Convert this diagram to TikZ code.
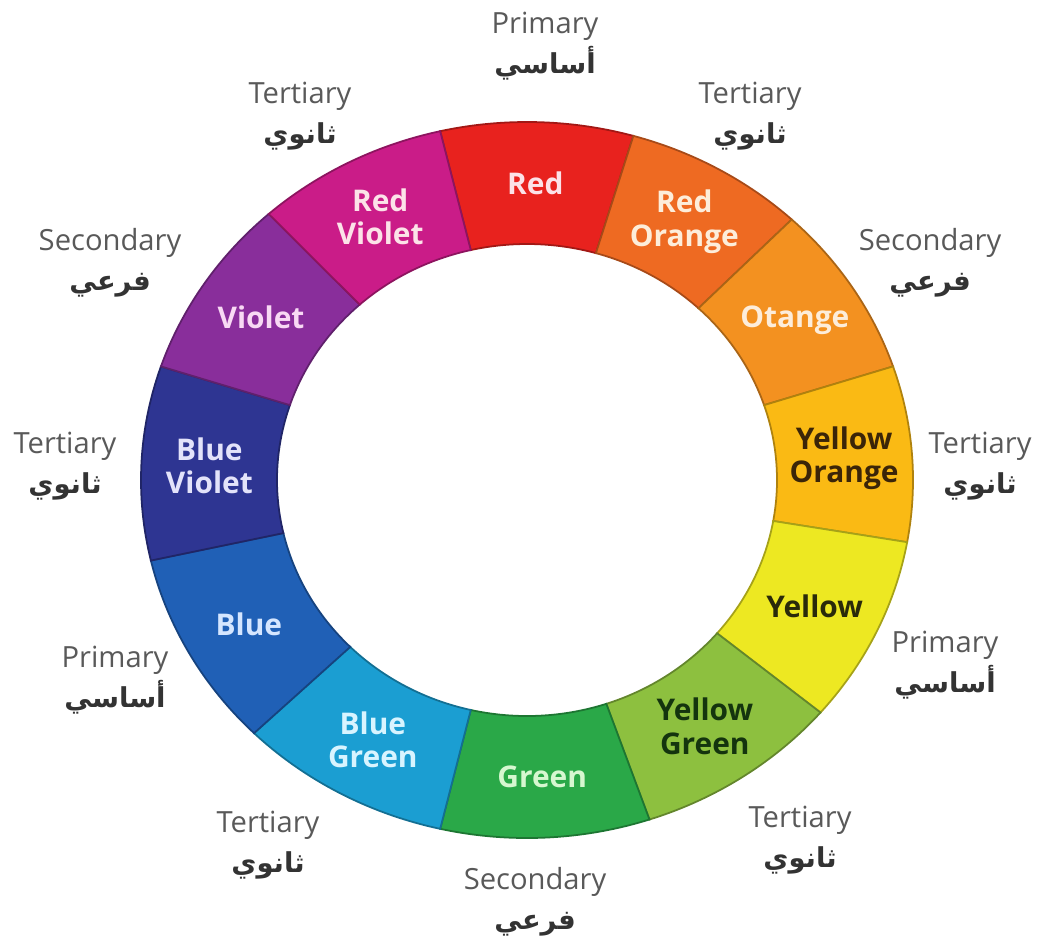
\documentclass[tikz,border=0pt]{standalone}
\usepackage{fontspec}
\setmainfont{Open Sans}
\newfontfamily\arabicfont[Script=Arabic]{DejaVu Sans}
\TeXXeTstate=1

\definecolor{cred}{RGB}{232,34,30}
\definecolor{credorange}{RGB}{238,106,34}
\definecolor{corange}{RGB}{243,145,32}
\definecolor{cyelloworange}{RGB}{250,186,20}
\definecolor{cyellow}{RGB}{237,232,34}
\definecolor{cyellowgreen}{RGB}{141,192,63}
\definecolor{cgreen}{RGB}{42,168,72}
\definecolor{cbluegreen}{RGB}{27,158,210}
\definecolor{cblue}{RGB}{32,96,182}
\definecolor{cblueviolet}{RGB}{46,53,146}
\definecolor{cviolet}{RGB}{137,46,155}
\definecolor{credviolet}{RGB}{202,28,136}
% text colours
\definecolor{tpink}{RGB}{252,226,232}
\definecolor{tcream}{RGB}{253,237,218}
\definecolor{tbrown}{RGB}{59,37,8}
\definecolor{tolive}{RGB}{42,42,10}
\definecolor{tdkgreen}{RGB}{20,52,14}
\definecolor{tltgreen}{RGB}{214,247,208}
\definecolor{tltcyan}{RGB}{216,244,255}
\definecolor{tltblue}{RGB}{213,230,255}
\definecolor{tlavender}{RGB}{227,227,250}
\definecolor{tlilac}{RGB}{248,217,244}

\newcommand{\arab}[1]{{\arabicfont\bfseries\fontsize{7.8}{11.5}\selectfont\color{black!80}\beginR #1\endR}}

\tikzset{
	wheelpart/.style={fill=#1, draw=#1!70!black, line width=0.5pt},
	colorname/.style={font=\fontsize{8.5}{9.5}\selectfont\bfseries, align=center, text=#1},
	kind/.style={font=\fontsize{8.3}{11.5}\selectfont, align=center, text=black!65},
}

\begin{document}
\begin{tikzpicture}
	\useasboundingbox (-5.27, -4.60) rectangle (5.22, 4.80);

	% the ring, one part per colour
	\draw[wheelpart=cred] (74:3.86 and 3.58) arc[start angle=74, end angle=103, x radius=3.86, y radius=3.58] -- (103:2.50 and 2.36) arc[start angle=103, end angle=74, x radius=2.50, y radius=2.36] -- cycle;
	\draw[wheelpart=credorange] (46.7:3.86 and 3.58) arc[start angle=46.7, end angle=74, x radius=3.86, y radius=3.58] -- (74:2.50 and 2.36) arc[start angle=74, end angle=46.7, x radius=2.50, y radius=2.36] -- cycle;
	\draw[wheelpart=corange] (18.5:3.86 and 3.58) arc[start angle=18.5, end angle=46.7, x radius=3.86, y radius=3.58] -- (46.7:2.50 and 2.36) arc[start angle=46.7, end angle=18.5, x radius=2.50, y radius=2.36] -- cycle;
	\draw[wheelpart=cyelloworange] (-10:3.86 and 3.58) arc[start angle=-10, end angle=18.5, x radius=3.86, y radius=3.58] -- (18.5:2.50 and 2.36) arc[start angle=18.5, end angle=-10, x radius=2.50, y radius=2.36] -- cycle;
	\draw[wheelpart=cyellow] (-40.5:3.86 and 3.58) arc[start angle=-40.5, end angle=-10, x radius=3.86, y radius=3.58] -- (-10:2.50 and 2.36) arc[start angle=-10, end angle=-40.5, x radius=2.50, y radius=2.36] -- cycle;
	\draw[wheelpart=cyellowgreen] (-71.5:3.86 and 3.58) arc[start angle=-71.5, end angle=-40.5, x radius=3.86, y radius=3.58] -- (-40.5:2.50 and 2.36) arc[start angle=-40.5, end angle=-71.5, x radius=2.50, y radius=2.36] -- cycle;
	\draw[wheelpart=cgreen] (-103:3.86 and 3.58) arc[start angle=-103, end angle=-71.5, x radius=3.86, y radius=3.58] -- (-71.5:2.50 and 2.36) arc[start angle=-71.5, end angle=-103, x radius=2.50, y radius=2.36] -- cycle;
	\draw[wheelpart=cbluegreen] (-135:3.86 and 3.58) arc[start angle=-135, end angle=-103, x radius=3.86, y radius=3.58] -- (-103:2.50 and 2.36) arc[start angle=-103, end angle=-135, x radius=2.50, y radius=2.36] -- cycle;
	\draw[wheelpart=cblue] (-167:3.86 and 3.58) arc[start angle=-167, end angle=-135, x radius=3.86, y radius=3.58] -- (-135:2.50 and 2.36) arc[start angle=-135, end angle=-167, x radius=2.50, y radius=2.36] -- cycle;
	\draw[wheelpart=cblueviolet] (161.5:3.86 and 3.58) arc[start angle=161.5, end angle=193, x radius=3.86, y radius=3.58] -- (193:2.50 and 2.36) arc[start angle=193, end angle=161.5, x radius=2.50, y radius=2.36] -- cycle;
	\draw[wheelpart=cviolet] (132:3.86 and 3.58) arc[start angle=132, end angle=161.5, x radius=3.86, y radius=3.58] -- (161.5:2.50 and 2.36) arc[start angle=161.5, end angle=132, x radius=2.50, y radius=2.36] -- cycle;
	\draw[wheelpart=credviolet] (103:3.86 and 3.58) arc[start angle=103, end angle=132, x radius=3.86, y radius=3.58] -- (132:2.50 and 2.36) arc[start angle=132, end angle=103, x radius=2.50, y radius=2.36] -- cycle;

	% names inside the ring
	\node[colorname=tpink] (red) at (88.5:3.18 and 2.97) {Red};
	\node[colorname=tcream] (redorange) at (60.35:3.18 and 2.97) {Red\\Orange};
	\node[colorname=tcream] (orange) at (32.6:3.18 and 2.97) {Otange};
	\node[colorname=tbrown] (yelloworange) at (4.25:3.18 and 2.97) {Yellow\\Orange};
	\node[colorname=tolive] (yellow) at (-25.25:3.18 and 2.97) {Yellow};
	\node[colorname=tdkgreen] (yellowgreen) at (-56:3.18 and 2.97) {Yellow\\Green};
	\node[colorname=tltgreen] (green) at (-87.25:3.18 and 2.97) {Green};
	\node[colorname=tltcyan] (bluegreen) at (-119:3.18 and 2.97) {Blue\\Green};
	\node[colorname=tltblue] (blue) at (-151:3.18 and 2.97) {Blue};
	\node[colorname=tlavender] (blueviolet) at (177.25:3.18 and 2.97) {Blue\\Violet};
	\node[colorname=tlilac] (violet) at (146.75:3.18 and 2.97) {Violet};
	\node[colorname=tpink] (redviolet) at (117.5:3.18 and 2.97) {Red\\Violet};

	% kinds round the outside
	\node[kind] (kindtop) at (0.18, 4.34) {Primary\\\arab{أساسي}};
	\node[kind] (kindtopleft) at (-2.27, 3.64) {Tertiary\\\arab{ثانوي}};
	\node[kind] (kindtopright) at (2.23, 3.64) {Tertiary\\\arab{ثانوي}};
	\node[kind] (kindupleft) at (-4.17, 2.17) {Secondary\\\arab{فرعي}};
	\node[kind] (kindupright) at (4.03, 2.17) {Secondary\\\arab{فرعي}};
	\node[kind] (kindleft) at (-4.62, 0.14) {Tertiary\\\arab{ثانوي}};
	\node[kind] (kindright) at (4.53, 0.14) {Tertiary\\\arab{ثانوي}};
	\node[kind] (kindlowleft) at (-4.12, -2.00) {Primary\\\arab{أساسي}};
	\node[kind] (kindlowright) at (4.18, -1.85) {Primary\\\arab{أساسي}};
	\node[kind] (kindbotleft) at (-2.59, -3.65) {Tertiary\\\arab{ثانوي}};
	\node[kind] (kindbotright) at (2.73, -3.60) {Tertiary\\\arab{ثانوي}};
	\node[kind] (kindbottom) at (0.08, -4.22) {Secondary\\\arab{فرعي}};
\end{tikzpicture}
\end{document}
